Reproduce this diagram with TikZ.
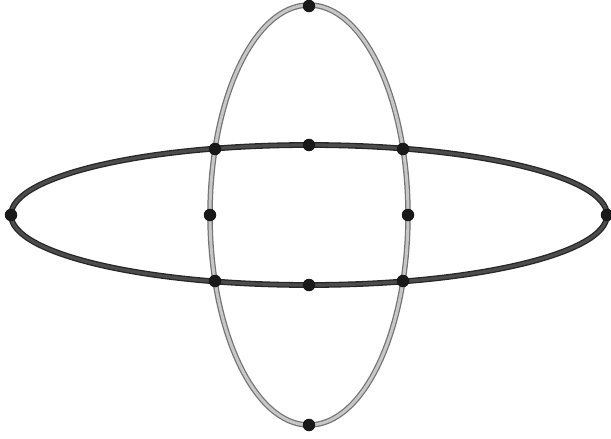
\documentclass[tikz,border=0pt]{standalone}
\usepackage{tikz}
\usetikzlibrary{calc}

\begin{document}
\begin{tikzpicture}[
    x=1pt, y=-1pt,
    ringouter/.style={draw=black!55, line width=5.5pt},
    ringinner/.style={draw=black!22, line width=3pt},
    bandouter/.style={draw=black!85, line width=5.8pt},
    bandinner/.style={draw=black!70, line width=3.2pt},
    dot/.style={circle, fill=black!90, inner sep=0pt, minimum size=12.5pt}
]

\useasboundingbox (0,0) rectangle (611,439);

\coordinate (centre) at (309,215);

% vertical ring behind
\draw[ringouter] (centre) ellipse [x radius=99, y radius=210];
\draw[ringinner] (centre) ellipse [x radius=99, y radius=210];

% horizontal band on top
\draw[bandouter] (centre) ellipse [x radius=298, y radius=70];
\draw[bandinner] (centre) ellipse [x radius=298, y radius=70];

\foreach \name/\dx/\dy in {top/0/-209, bottom/0/210, left/-298/0, right/298/0,
    ringleft/-99/0, ringright/99/0, bandtop/0/-70, bandbottom/0/70,
    crossnw/-94/-66, crossne/94/-66, crosssw/-94/66, crossse/94/66}
    \node[dot] (\name) at ($(centre)+(\dx,\dy)$) {};

\end{tikzpicture}
\end{document}
